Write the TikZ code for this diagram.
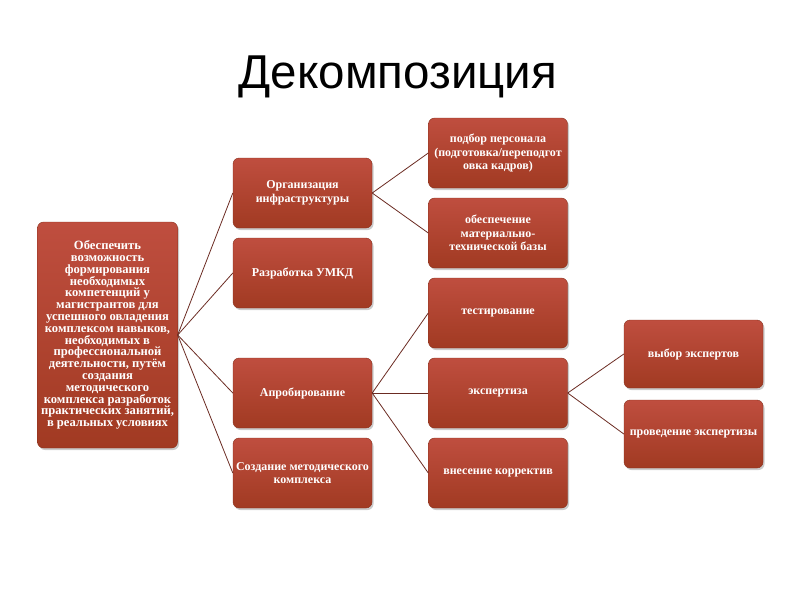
\documentclass[tikz,border=0pt]{standalone}
\usepackage{fontspec}
\setmainfont{Liberation Serif}
\newfontfamily\titlefont{Liberation Sans}
\usetikzlibrary{shadows}
\definecolor{boxtop}{HTML}{BF4E3F}
\definecolor{boxbot}{HTML}{A13A22}
\definecolor{linkcol}{HTML}{6B2B22}
\begin{document}
\begin{tikzpicture}[x=1pt,y=-1pt,
  box/.style={rectangle, rounded corners=6pt, top color=boxtop, bottom color=boxbot,
    draw=boxbot!85!black, line width=0.4pt,
    drop shadow={shadow xshift=1.5pt, shadow yshift=-2pt, fill=black!45, opacity=0.45},
    text=white, font=\bfseries\fontsize{12}{13.6}\selectfont, align=center,
    inner sep=2pt, minimum width=139pt, minimum height=70pt},
  link/.style={draw=linkcol, line width=0.8pt}]
\useasboundingbox (0,0) rectangle (800,600);
\node[font=\titlefont\fontsize{47.5}{52}\selectfont] (title) at (398,77) {Декомпозиция};

\node[box, minimum height=226pt, minimum width=140pt, font=\bfseries\fontsize{12.6}{11.8}\selectfont] (root) at (107.5,335) {Обеспечить\\возможность\\формирования\\необходимых\\компетенций у\\магистрантов для\\успешного овладения\\комплексом навыков,\\необходимых в\\профессиональной\\деятельности, путём\\создания\\методического\\комплекса разработок\\практических занятий,\\в реальных условиях};

\node[box] (org) at (302.5,193) {Организация\\инфраструктуры};
\node[box] (umkd) at (302.5,273) {Разработка УМКД};
\node[box] (aprob) at (302.5,393) {Апробирование};
\node[box] (sozd) at (302.5,473) {Создание методического\\комплекса};

\node[box] (podbor) at (498,153) {подбор персонала\\(подготовка/переподгот\\овка кадров)};
\node[box] (obesp) at (498,233) {обеспечение\\материально-\\технической базы};
\node[box] (test) at (498,313) {тестирование};
\node[box] (eksp) at (498,393) {экспертиза};
\node[box] (vnes) at (498,473) {внесение корректив};

\node[box, minimum height=68pt] (vybor) at (693.5,354) {выбор экспертов};
\node[box, minimum height=68pt] (prov) at (693.5,434) {проведение экспертизы};

\foreach \t in {org,umkd,aprob,sozd} \draw[link] (root.east) -- (\t.west);
\foreach \t in {podbor,obesp} \draw[link] (org.east) -- (\t.west);
\foreach \t in {test,eksp,vnes} \draw[link] (aprob.east) -- (\t.west);
\foreach \t in {vybor,prov} \draw[link] (eksp.east) -- (\t.west);
\end{tikzpicture}
\end{document}
